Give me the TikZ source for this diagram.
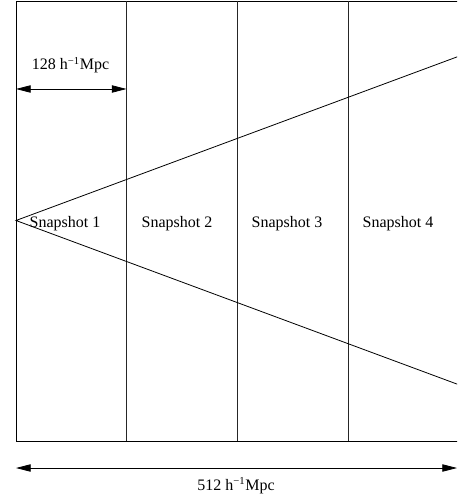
\documentclass[tikz,border=0pt]{standalone}
\usepackage{fontspec}
\setmainfont{Liberation Serif}
\usetikzlibrary{arrows.meta}

\begin{document}
\begin{tikzpicture}[
    x=0.75pt, y=-0.75pt,
    frame/.style={line width=0.6pt, draw=black},
    divider/.style={line width=0.6pt, draw=black!85},
    ray/.style={line width=0.6pt, draw=black},
    span/.style={{Triangle[length=11pt,width=5.5pt]}-{Triangle[length=11pt,width=5.5pt]},
                 line width=0.6pt, draw=black},
    snap/.style={font=\fontsize{12}{14}\selectfont, inner sep=0pt, anchor=base},
    dimlabel/.style={font=\fontsize{12}{14}\selectfont, inner sep=0pt, anchor=base}
]
\useasboundingbox (0,0) rectangle (457,498);
\clip (0,0) rectangle (457,498);

% outer box, open to the right where the page cuts it
\draw[frame] (459.5,1) -- (16,1) -- (16,441) -- (459.5,441);
\draw[divider] (126.5,1) -- (126.5,441);
\draw[divider] (237.5,1) -- (237.5,441);
\draw[divider] (348.5,1) -- (348.5,441);
\draw[frame] (459.5,1) -- (459.5,441);

% light cone from the observer
\coordinate (apex)  at (16,220.5);
\coordinate (upper) at (459.5,56);
\coordinate (lower) at (459.5,385);
\draw[ray] (upper) -- (apex) -- (lower);

\node[snap] (s1) at (65,227.5)  {Snapshot 1};
\node[snap] (s2) at (177,227.5) {Snapshot 2};
\node[snap] (s3) at (287,227.5) {Snapshot 3};
\node[snap] (s4) at (398,227.5) {Snapshot 4};

% box sizes
\coordinate (boxL) at (16,89);
\coordinate (boxR) at (126.5,89);
\draw[span] (boxL) -- (boxR);
\node[dimlabel] (boxsize) at (70.5,70) {128 h\textsuperscript{−1}Mpc};

\coordinate (allL) at (16,468);
\coordinate (allR) at (457,468);
\draw[span] (allL) -- (allR);
\node[dimlabel] (allsize) at (236,490) {512 h\textsuperscript{−1}Mpc};
\end{tikzpicture}
\end{document}
